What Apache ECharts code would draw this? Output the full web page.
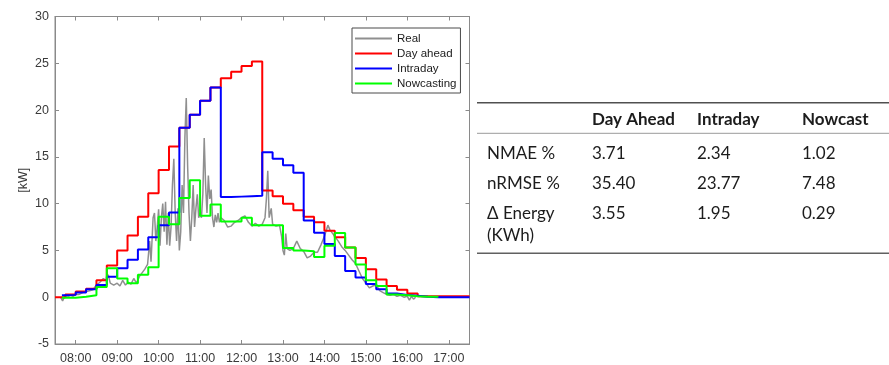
<!DOCTYPE html>
<html><head><meta charset="utf-8">
<script src="https://cdn.jsdelivr.net/npm/echarts@6/dist/echarts.min.js"></script>
<style>html,body{margin:0;padding:0;background:#fff}#c{width:889px;height:365px}</style>
</head><body><div id="c"></div>
<script>
// ---- data ----
const slots = ['07:30','07:40','07:45','08:00','08:15','08:30','08:45','09:00','09:15','09:30','09:45','10:00','10:15','10:30','10:45','11:00','11:15','11:30','11:45','12:00','12:15','12:30','12:45','13:00','13:15','13:30','13:45','14:00','14:15','14:30','14:45','15:00','15:15','15:30','15:45','16:00','16:15','16:30','16:45','17:00','17:15','17:20','17:30'];
const dayAhead = [0,0,0.3,0.6,0.9,1.8,3.4,5.0,6.6,8.6,11.1,13.6,16.1,18.1,19.5,21.0,22.4,23.4,24.1,24.7,25.2,11.4,10.8,10.0,9.3,8.6,8.0,7.1,6.4,5.3,4.2,3.0,1.9,1.2,0.8,0.4,0.1,0.1,0.1,0.1,0.1,0.1,0.1];
const intraday = [null,0.2,0.25,0.5,0.85,1.3,2.2,3.1,4.0,5.1,6.4,7.7,9.05,18.1,19.5,21.0,22.4,10.7,10.75,10.8,10.85,15.5,14.8,14.1,13.3,8.2,6.9,5.7,4.4,2.8,2.1,1.4,0.85,0.4,0.25,0.15,0.05,0,0,0,0,0,null];
const nowcasting = [null,-0.05,-0.05,0.05,0.2,1.1,3.1,2.0,1.5,2.4,3.2,8.6,7.8,10.6,12.5,8.7,9.9,8.1,8.1,8.5,7.7,7.7,7.7,5.25,5.0,4.9,4.3,5.5,6.85,5.3,3.5,1.8,1.2,0.3,0.2,0.1,0.05,0.05,null,null,null,null,null];

const realTimes = ['07:38','07:41','07:44','07:48','07:52','07:56','08:00','08:05','08:10','08:15','08:20','08:25','08:30','08:35','08:40','08:44','08:47','08:50','08:55','09:00','09:04','09:08','09:12','09:16','09:20','09:24','09:28','09:32','09:36','09:40','09:44','09:47','09:49','09:52','09:54','09:56','09:58','10:00','10:02','10:04','10:06','10:08','10:10','10:12','10:14','10:16','10:18','10:20','10:22','10:24','10:26','10:28','10:30','10:32','10:34','10:36','10:38','10:40','10:42','10:44','10:46','10:48','10:50','10:52','10:54','10:56','10:58','11:00','11:02','11:04','11:06','11:08','11:10','11:12','11:14','11:16','11:18','11:20','11:22','11:24','11:26','11:28','11:30','11:35','11:40','11:45','11:50','11:55','12:00','12:05','12:10','12:15','12:20','12:25','12:30','12:34','12:36','12:38','12:40','12:43','12:45','12:50','12:55','12:58','13:00','13:02','13:04','13:06','13:10','13:15','13:20','13:25','13:30','13:35','13:40','13:45','13:50','13:55','14:00','14:05','14:08','14:12','14:20','14:25','14:30','14:35','14:40','14:45','14:50','14:55','15:00','15:05','15:10','15:15','15:20','15:25','15:30','15:35','15:40','15:45','15:50','15:55','16:00','16:03','16:06','16:09','16:12'];
const realValues = [0.0,-0.4,0.1,0.0,0.2,0.1,0.3,0.3,0.5,0.6,0.7,0.8,1.3,1.6,2.0,1.8,2.4,1.5,1.3,1.5,1.2,1.8,1.3,1.6,1.4,2.0,1.5,2.2,2.6,3.0,3.5,6.0,3.8,8.5,9.0,6.0,7.5,9.4,5.5,8.5,10.0,7.0,10.2,5.6,9.0,5.5,7.5,12.0,14.8,9.0,6.0,9.5,5.0,7.0,12.0,9.0,17.0,21.3,14.0,9.0,6.0,8.5,12.0,7.5,9.5,11.0,8.5,9.0,8.5,11.0,17.0,12.0,9.0,13.0,10.5,11.5,8.5,7.5,8.8,8.0,9.0,8.0,8.5,8.2,7.5,7.6,8.0,8.2,8.5,8.7,8.0,7.6,7.9,7.6,7.8,8.5,10.5,13.5,8.5,9.5,7.8,7.6,7.7,6.5,5.0,4.5,6.8,5.2,5.0,5.2,6.0,5.2,4.9,4.2,4.4,4.8,4.8,5.6,6.5,7.7,7.2,6.8,6.0,5.4,5.0,4.5,4.0,3.6,2.8,2.0,1.5,1.0,1.2,1.3,0.7,0.5,0.3,0.2,0.3,0.1,0.2,0.0,0.1,-0.3,0.1,-0.2,0.0];

const hourLabels = ['08:00','09:00','10:00','11:00','12:00','13:00','14:00','15:00','16:00','17:00'];
const seriesNames = ['Real','Day ahead','Intraday','Nowcasting'];

const tableCols = ['Day Ahead','Intraday','Nowcast'];
const tableRows = ['NMAE %','nRMSE %','Δ Energy\n(KWh)'];
const tableValues = [['3.71','2.34','1.02'],['35.40','23.77','7.48'],['3.55','1.95','0.29']];

// ---- helpers ----
const toH = s => { const p = s.split(':').map(Number); return p[0] + p[1] / 60; };
const pair = (times, vals) => times.map((t, i) => [toH(t), vals[i]]);

const AX = '#8a8a8a';
const LBL = '#3a3a3a';
const FONT = 'Liberation Sans, Arial, sans-serif';

// table graphic
const colX = [592, 697, 802];
const headerY = 119.5;
const rowY = [153.5, 183.5, 214];
const labelX = 487;
const TF = 'Lato, "Noto Sans", sans-serif';
const graphics = [
  {type:'line', shape:{x1:477, y1:102.7, x2:889, y2:102.7}, style:{stroke:'#505050', lineWidth:1.6}},
  {type:'line', shape:{x1:477, y1:133.3, x2:889, y2:133.3}, style:{stroke:'#9a9a9a', lineWidth:1}},
  {type:'line', shape:{x1:477, y1:253.3, x2:889, y2:253.3}, style:{stroke:'#606060', lineWidth:1.6}}
];
tableCols.forEach((c, j) => graphics.push({type:'text', style:{text:c, x:colX[j], y:headerY, fontFamily:TF, fontSize:17, fontWeight:'bold', fill:'#1c1c1c', verticalAlign:'middle', align:'left'}}));
tableRows.forEach((r, i) => {
  graphics.push({type:'text', style:{text:r, x:labelX, y:rowY[i]-11, fontFamily:TF, fontSize:17, lineHeight:22, fill:'#1c1c1c', verticalAlign:'top', align:'left'}});
  tableValues[i].forEach((v, j) => graphics.push({type:'text', style:{text:v, x:colX[j], y:rowY[i]-11, fontFamily:TF, fontSize:17, lineHeight:22, fill:'#1c1c1c', verticalAlign:'top', align:'left'}}));
});

const chart = echarts.init(document.getElementById('c'), null, {renderer:'canvas'});
const xBase = {
  type:'value', min:7.5, max:17.5, minInterval:1, maxInterval:1,
  axisLine:{show:true, onZero:false, lineStyle:{color:AX, width:1}},
  axisTick:{show:true, inside:true, length:4, lineStyle:{color:AX}},
  splitLine:{show:false}
};
const yBase = {
  type:'value', min:-5, max:30, interval:5,
  axisLine:{show:true, onZero:false, lineStyle:{color:AX, width:1}},
  axisTick:{show:true, inside:true, length:4, lineStyle:{color:AX}},
  splitLine:{show:false}
};
chart.setOption({
  animation:false,
  backgroundColor:'#fff',
  grid:{left:55, right:419.5, top:16.5, bottom:21, show:true, borderColor:AX, borderWidth:1, backgroundColor:'#fff'},
  xAxis:[
    Object.assign({}, xBase, {position:'bottom', axisLabel:{show:true, color:LBL, fontFamily:FONT, fontSize:12.5, margin:8, showMinLabel:false, showMaxLabel:false,
      formatter: v => { const r = Math.round(v); if (Math.abs(v - r) > 1e-6) return ''; const i = r - 8; return (i >= 0 && i < hourLabels.length) ? hourLabels[i] : ''; }}}),
    Object.assign({}, xBase, {position:'top', axisLabel:{show:false}})
  ],
  yAxis:[
    Object.assign({}, yBase, {position:'left', name:'[kW]', nameLocation:'middle', nameGap:25, nameRotate:90,
      nameTextStyle:{color:LBL, fontFamily:FONT, fontSize:12.5},
      axisLabel:{show:true, color:LBL, fontFamily:FONT, fontSize:12.5, margin:6}}),
    Object.assign({}, yBase, {position:'right', axisLabel:{show:false}})
  ],
  legend:{
    orient:'vertical', left:352, top:28, padding:[3,4,2,3],
    itemWidth:37, itemHeight:2, itemGap:0, icon:'rect',
    borderColor:'#4a4a4a', borderWidth:1, backgroundColor:'#fff',
    textStyle:{fontFamily:FONT, fontSize:11.5, color:'#1a1a1a', lineHeight:15},
    data:seriesNames
  },
  graphic:graphics,
  series:[
    {name:seriesNames[0], type:'line', symbol:'none', data:pair(realTimes, realValues), lineStyle:{color:'#8f8f8f', width:1.5}, itemStyle:{color:'#8f8f8f'}, z:2},
    {name:seriesNames[1], type:'line', symbol:'none', step:'end', data:pair(slots, dayAhead), lineStyle:{color:'#ff0000', width:2}, itemStyle:{color:'#ff0000'}, z:3},
    {name:seriesNames[2], type:'line', symbol:'none', step:'end', data:pair(slots, intraday), lineStyle:{color:'#0000ff', width:2}, itemStyle:{color:'#0000ff'}, z:4},
    {name:seriesNames[3], type:'line', symbol:'none', step:'end', data:pair(slots, nowcasting), lineStyle:{color:'#00ff00', width:2}, itemStyle:{color:'#00ff00'}, z:5}
  ]
});
</script></body></html>
